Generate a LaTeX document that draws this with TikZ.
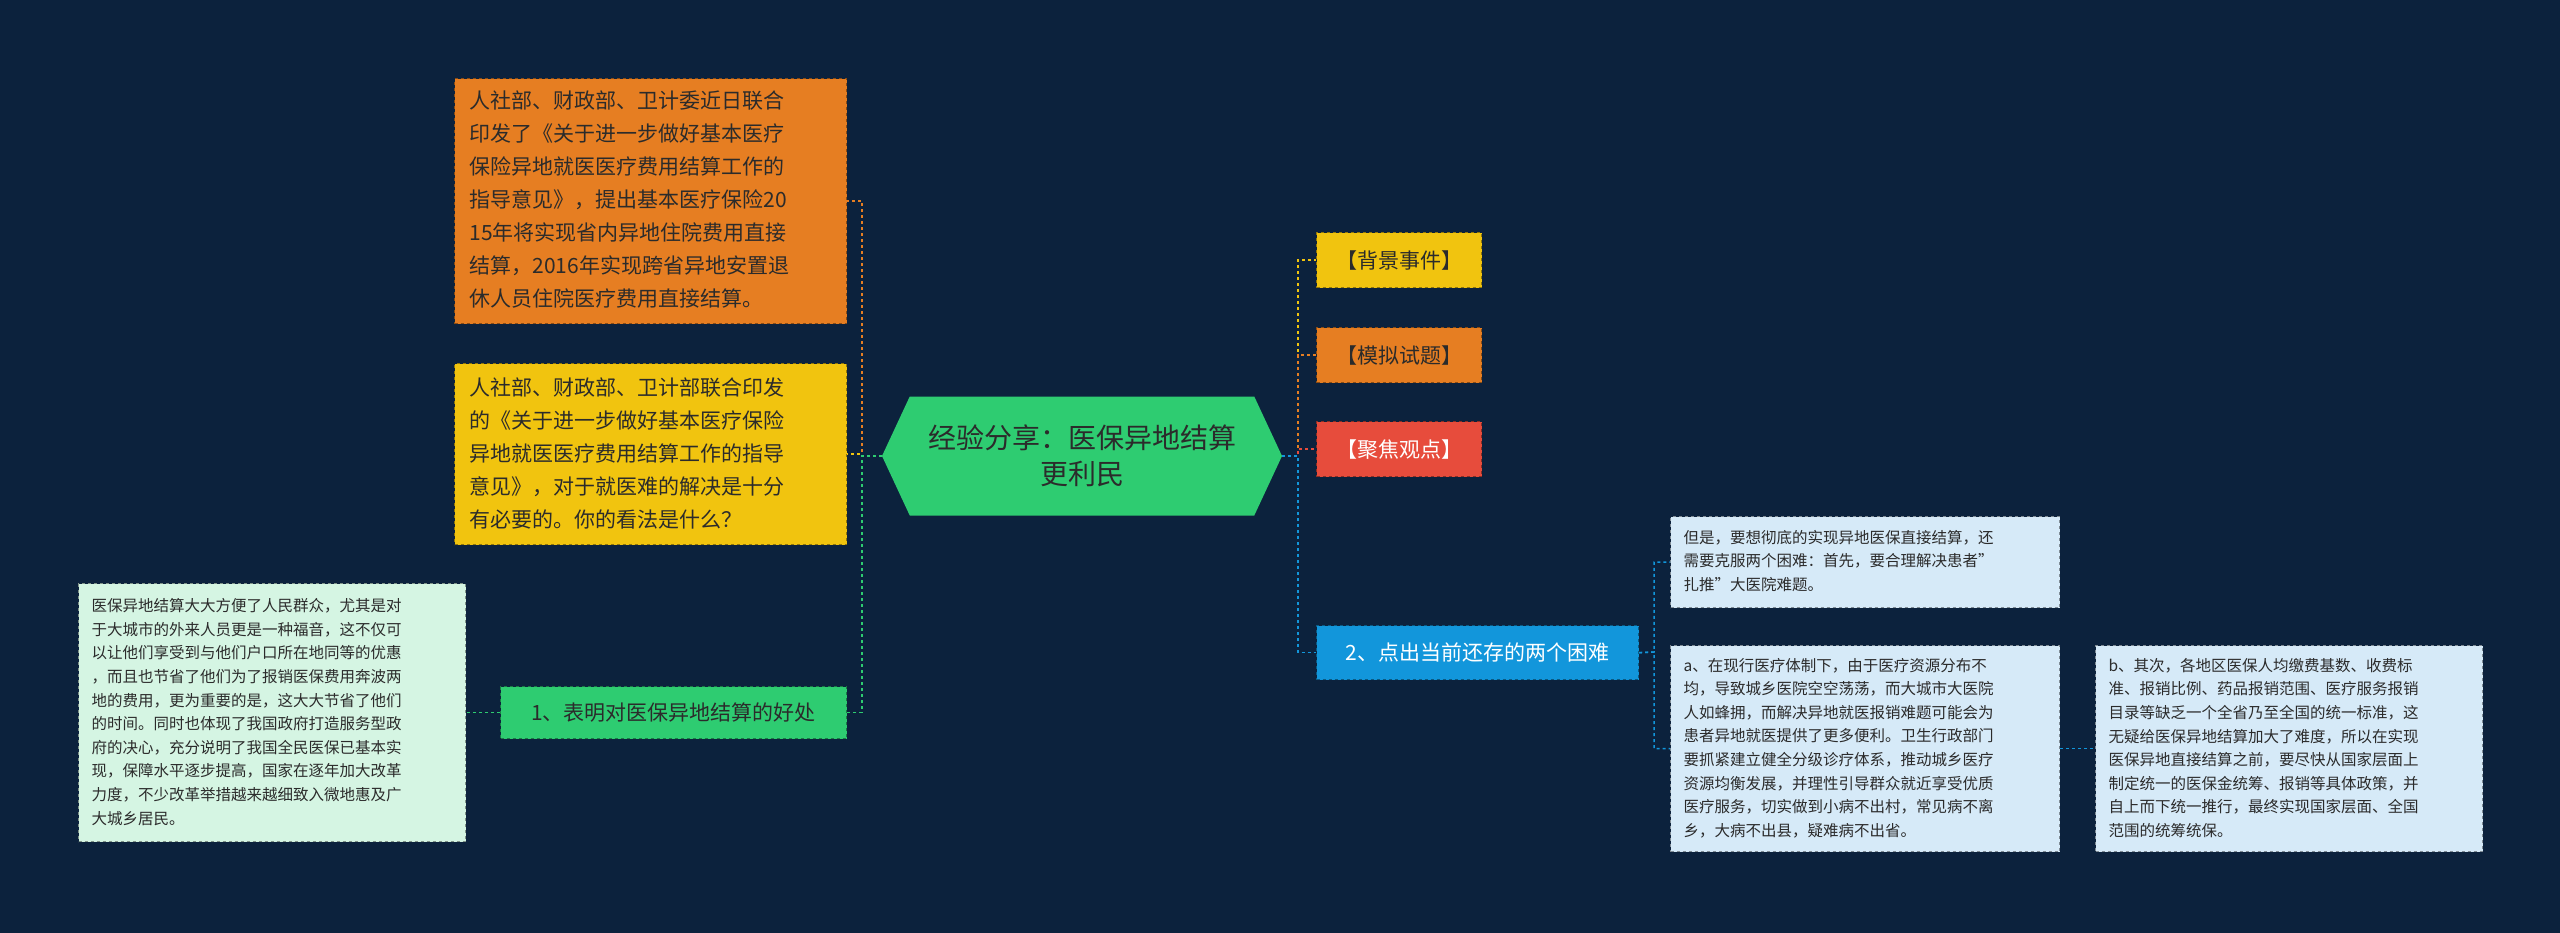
\documentclass[tikz,border=0pt]{standalone}
\usepackage{fontspec}
\setmainfont{Noto Sans CJK SC}
\usetikzlibrary{shapes.symbols}
\definecolor{bg}{HTML}{0C223D}
\definecolor{cor}{HTML}{E67E22}
\definecolor{cye}{HTML}{F1C40F}
\definecolor{cgr}{HTML}{2ECC71}
\definecolor{cre}{HTML}{E74C3C}
\definecolor{cbl}{HTML}{1296DB}
\definecolor{lgr}{HTML}{D5F5E3}
\definecolor{lbl}{HTML}{D6EAF8}
\definecolor{tx}{HTML}{2B2B2B}
\begin{document}
\begin{tikzpicture}[x=1pt,y=-1pt,
 box/.style={draw=#1!60!black,dashed,line width=1.2pt,fill=#1,anchor=north west,inner sep=0pt,text=tx},
 big/.style={font=\fontsize{21}{33}\selectfont,align=left},
 small/.style={font=\fontsize{15.5}{23.6}\selectfont,align=left},
 tag/.style={draw=#1!60!black,dashed,line width=1.2pt,fill=#1,minimum height=55pt,anchor=north west,inner sep=0pt,font=\fontsize{21}{25}\selectfont},
 ln/.style={draw=#1,dashed,line width=1.5pt}]
\fill[bg] (0,0) rectangle (2560,933);
\useasboundingbox (0,0) rectangle (2560,933);
% boxes
\node[box=cor,minimum width=392pt,minimum height=245pt] (o1) at (454,78) {};
\node[big,anchor=west,text=tx] at (466,200) {人社部、财政部、卫计委近日联合\\印发了《关于进一步做好基本医疗\\保险异地就医医疗费用结算工作的\\指导意见》，提出基本医疗保险20\\15年将实现省内异地住院费用直接\\结算，2016年实现跨省异地安置退\\休人员住院医疗费用直接结算。};
\node[box=cye,minimum width=392pt,minimum height=181pt] (y1) at (454,363) {};
\node[big,anchor=west,text=tx] at (466,453) {人社部、财政部、卫计部联合印发\\的《关于进一步做好基本医疗保险\\异地就医医疗费用结算工作的指导\\意见》，对于就医难的解决是十分\\有必要的。你的看法是什么？};
\node[box=lgr,minimum width=387pt,minimum height=258pt] (lt) at (78,583) {};
\node[small,anchor=west,text=tx] at (88,712) {医保异地结算大大方便了人民群众，尤其是对\\于大城市的外来人员更是一种福音，这不仅可\\以让他们享受到与他们户口所在地同等的优惠\\，而且也节省了他们为了报销医保费用奔波两\\地的费用，更为重要的是，这大大节省了他们\\的时间。同时也体现了我国政府打造服务型政\\府的决心，充分说明了我国全民医保已基本实\\现，保障水平逐步提高，国家在逐年加大改革\\力度，不少改革举措越来越细致入微地惠及广\\大城乡居民。};
\node[tag=cgr,minimum width=346pt,minimum height=52pt,text=tx] (g1) at (500,686) {1、表明对医保异地结算的好处};
% center
\node[signal,signal to=west and east,signal pointer angle=130,fill=cgr,minimum width=400pt,minimum height=119pt,inner sep=0pt,font=\fontsize{28}{36}\selectfont,align=center,text=tx] (c) at (1082,456) {经验分享：医保异地结算\\更利民};
% right tags
\node[tag=cye,minimum width=165pt,text=tx] (t1) at (1316,232) {【背景事件】};
\node[tag=cor,minimum width=165pt,text=tx] (t2) at (1316,327) {【模拟试题】};
\node[tag=cre,minimum width=165pt,text=white] (t3) at (1316,421) {【聚焦观点】};
\node[tag=cbl,minimum width=322pt,minimum height=54pt,text=white] (t4) at (1316,625) {2、点出当前还存的两个困难};
\node[box=lbl,minimum width=389pt,minimum height=91pt] (r1) at (1670,516) {};
\node[small,anchor=west,text=tx] at (1680,561) {但是，要想彻底的实现异地医保直接结算，还\\需要克服两个困难：首先，要合理解决患者"\\扎推"大医院难题。};
\node[box=lbl,minimum width=389pt,minimum height=206pt] (r2) at (1670,645) {};
\node[small,anchor=west,text=tx] at (1680,748) {a、在现行医疗体制下，由于医疗资源分布不\\均，导致城乡医院空空荡荡，而大城市大医院\\人如蜂拥，而解决异地就医报销难题可能会为\\患者异地就医提供了更多便利。卫生行政部门\\要抓紧建立健全分级诊疗体系，推动城乡医疗\\资源均衡发展，并理性引导群众就近享受优质\\医疗服务，切实做到小病不出村，常见病不离\\乡，大病不出县，疑难病不出省。};
\node[box=lbl,minimum width=387pt,minimum height=206pt] (r3) at (2095,645) {};
\node[small,anchor=west,text=tx] at (2105,748) {b、其次，各地区医保人均缴费基数、收费标\\准、报销比例、药品报销范围、医疗服务报销\\目录等缺乏一个全省乃至全国的统一标准，这\\无疑给医保异地结算加大了难度，所以在实现\\医保异地直接结算之前，要尽快从国家层面上\\制定统一的医保金统筹、报销等具体政策，并\\自上而下统一推行，最终实现国家层面、全国\\范围的统筹统保。};
% connectors
\coordinate (lj) at (862,456);
\coordinate (rj) at (1298,456);
\draw[ln=cor] (c.west) -- (lj) |- (o1.east);
\draw[ln=cye] (c.west) -- (lj) |- (y1.east);
\draw[ln=cgr] (c.west) -- (lj) |- (g1.east);
\draw[ln=cgr] (g1.west) -- (lt.east);
\draw[ln=cye] (c.east) -- (rj) |- (t1.west);
\draw[ln=cor] (c.east) -- (rj) |- (t2.west);
\draw[ln=cre] (c.east) -- (rj) |- (t3.west);
\draw[ln=cbl] (c.east) -- (rj) |- (t4.west);
\coordinate (bj) at (1654,652);
\draw[ln=cbl] (t4.east) -- (bj) |- (r1.west);
\draw[ln=cbl] (t4.east) -- (bj) |- (r2.west);
\draw[ln=cbl] (r2.east) -- (r3.west);
\end{tikzpicture}
\end{document}
